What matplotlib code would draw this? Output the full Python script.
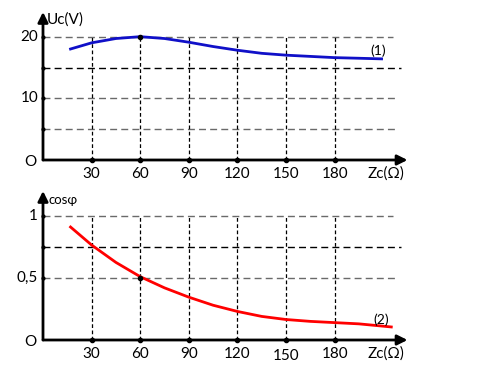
import matplotlib
matplotlib.use("Agg")
import matplotlib.pyplot as plt

plt.rcParams['font.family'] = ['Lato', 'DejaVu Sans']

# data
zc_ticks = [30, 60, 90, 120, 150, 180]
uc_ticks = [20, 10]
uc_grid = [20, 15, 10, 5]
cos_ticks = [1, 0.5]
cos_tick_labels = ['1', '0,5']
cos_grid = [1, 0.75, 0.5]

zc_1 = [17, 30, 45, 60, 75, 90, 105, 120, 135, 150, 165, 180, 195, 209]
uc_1 = [18.0, 19.0, 19.7, 20.0, 19.7, 19.1, 18.4, 17.8, 17.3, 17.0, 16.8, 16.6, 16.5, 16.4]

zc_2 = [17, 30, 45, 60, 75, 90, 105, 120, 135, 150, 165, 180, 195, 215]
cos_2 = [0.91, 0.765, 0.625, 0.51, 0.42, 0.345, 0.28, 0.23, 0.19, 0.165, 0.15, 0.14, 0.13, 0.105]

W, H = 492, 365
fig = plt.figure(figsize=(W / 100, H / 100), dpi=100)

X0, XS = 43, 1.62  # pixel of x=0, px per ohm
XMAX = 225
FS = 11


def make_axes(y0_px, top_px):
    ax = fig.add_axes([X0 / W, (H - y0_px) / H, XMAX * XS / W, (y0_px - top_px) / H])
    ax.set_axis_off()
    ax.set_xlim(0, XMAX)
    return ax


def draw_frame(ax, ymax, grid, grid_end, grid_col, top):
    for g, e, c in zip(grid, grid_end, grid_col):
        ax.plot([0, e], [g, g], color=c, lw=1.0, dashes=(5, 3), zorder=1)
    for x in zc_ticks:
        ax.plot([x, x], [0, top], color='black', lw=0.9, dashes=(3, 2), zorder=1)
    ax.annotate('', xy=(XMAX, 0), xytext=(0, 0), annotation_clip=False,
                arrowprops=dict(arrowstyle='-|>,head_length=0.6,head_width=0.3',
                                color='black', lw=2, shrinkA=0, shrinkB=0))
    ax.annotate('', xy=(0, ymax), xytext=(0, 0), annotation_clip=False,
                arrowprops=dict(arrowstyle='-|>,head_length=0.6,head_width=0.3',
                                color='black', lw=2, shrinkA=0, shrinkB=0))
    ax.plot(zc_ticks, [0] * len(zc_ticks), 'o', color='black', ms=3, zorder=3, clip_on=False)
    ax.plot([0] * len(grid), grid, 'o', color='black', ms=2, zorder=3, clip_on=False)


# top panel: Uc
ax1 = make_axes(160, 12)
ax1.set_ylim(0, 24)
draw_frame(ax1, 24, uc_grid, [216, 221, 218, 218],
           ['#6a6a6a', 'black', '#6a6a6a', '#6a6a6a'], 20)
ax1.plot(zc_1, uc_1, color='#1010c8', lw=2, zorder=2)
ax1.plot([60], [20], 'o', color='black', ms=3, zorder=3)
for x in zc_ticks:
    ax1.text(x, -1.2, str(x), ha='center', va='top', fontsize=FS)
for y in uc_ticks:
    ax1.text(-3, y, str(y), ha='right', va='center', fontsize=FS)
ax1.text(-4, -0.4, 'O', ha='right', va='center', fontsize=FS)
ax1.text(2.5, 22.8, 'Uc(V)', ha='left', va='center', fontsize=FS)
ax1.text(212, -1.0, 'Zc(Ω)', ha='center', va='top', fontsize=FS)
ax1.text(207, 17.8, '(1)', ha='center', va='center', fontsize=10)

# bottom panel: cos phi
ax2 = make_axes(340, 191)
ax2.set_ylim(0, 1.2)
draw_frame(ax2, 1.2, cos_grid, [216, 221, 218],
           ['#6a6a6a', 'black', '#6a6a6a'], 1)
ax2.plot(zc_2, cos_2, color='#ff0000', lw=2, zorder=2)
ax2.plot([60], [0.5], 'o', color='black', ms=3, zorder=3)
for x in zc_ticks:
    dy = -0.075 if x == 150 else -0.055
    ax2.text(x, dy, str(x), ha='center', va='top', fontsize=FS)
for y, lab in zip(cos_ticks, cos_tick_labels):
    ax2.text(-3, y, lab, ha='right', va='center', fontsize=FS)
ax2.text(-4, -0.02, 'O', ha='right', va='center', fontsize=FS)
ax2.text(3.5, 1.13, 'cosφ', ha='left', va='center', fontsize=9.5)
ax2.text(212, -0.05, 'Zc(Ω)', ha='center', va='top', fontsize=FS)
ax2.text(209, 0.165, '(2)', ha='center', va='center', fontsize=10)

fig.savefig('out.png', dpi=100)
